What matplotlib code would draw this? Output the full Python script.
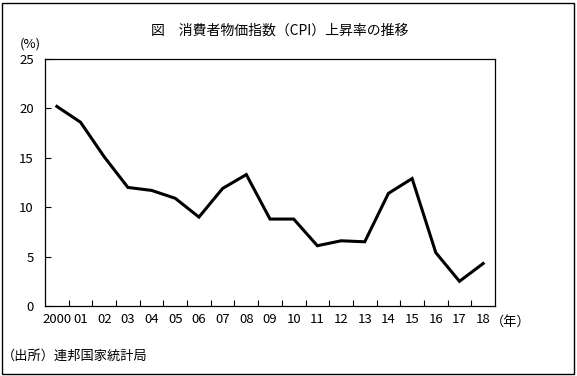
import numpy as np
import matplotlib.pyplot as plt
from matplotlib.patches import Rectangle

plt.rcParams['font.family'] = ['Noto Sans CJK JP', 'DejaVu Sans']

# data
years = ['2000', '01', '02', '03', '04', '05', '06', '07', '08', '09',
         '10', '11', '12', '13', '14', '15', '16', '17', '18']
cpi = [20.2, 18.6, 15.1, 12.0, 11.7, 10.9, 9.0, 11.9, 13.3, 8.8,
       8.8, 6.1, 6.6, 6.5, 11.4, 12.9, 5.4, 2.5, 4.3]
yticks = [0, 5, 10, 15, 20, 25]

W, H = 577, 376
fig = plt.figure(figsize=(W / 100, H / 100), dpi=100)
ax = fig.add_axes([45 / W, 1 - 306 / H, 450 / W, 247 / H])

x = np.arange(len(years))
ax.plot(x, cpi, color='black', linewidth=2.2, solid_joinstyle='miter')

ax.set_xlim(-0.5, len(years) - 0.5)
ax.set_ylim(0, 25)
ax.set_yticks(yticks)
ax.set_yticklabels([str(v) for v in yticks], fontsize=9.5)
ax.set_xticks(x)
ax.set_xticklabels(years, fontsize=9.5)
ax.tick_params(axis='x', length=0, pad=5)
ax.set_xticks(np.arange(0.5, len(years) - 1, 1), minor=True)
ax.tick_params(axis='x', which='minor', direction='in', length=4, width=0.8)
ax.tick_params(axis='y', direction='in', length=4, width=0.8, pad=8)
for s in ax.spines.values():
    s.set_linewidth(0.9)

fig.text(280 / W, 1 - 31 / H, '図　消費者物価指数（CPI）上昇率の推移', ha='center', va='center', fontsize=10)
fig.text(30 / W, 1 - 44 / H, '(%)', ha='center', va='center', fontsize=9.5)
fig.text(491 / W, 1 - 322 / H, '（年）', ha='left', va='center', fontsize=9.5)
fig.text(2 / W, 1 - 356 / H, '（出所）連邦国家統計局', ha='left', va='center', fontsize=9.5)

fig.patches.append(Rectangle((2 / W, 2 / H), 1 - 5 / W, 1 - 5 / H, transform=fig.transFigure,
                             fill=False, edgecolor='black', linewidth=1.0))

fig.savefig('out.png', dpi=100)
